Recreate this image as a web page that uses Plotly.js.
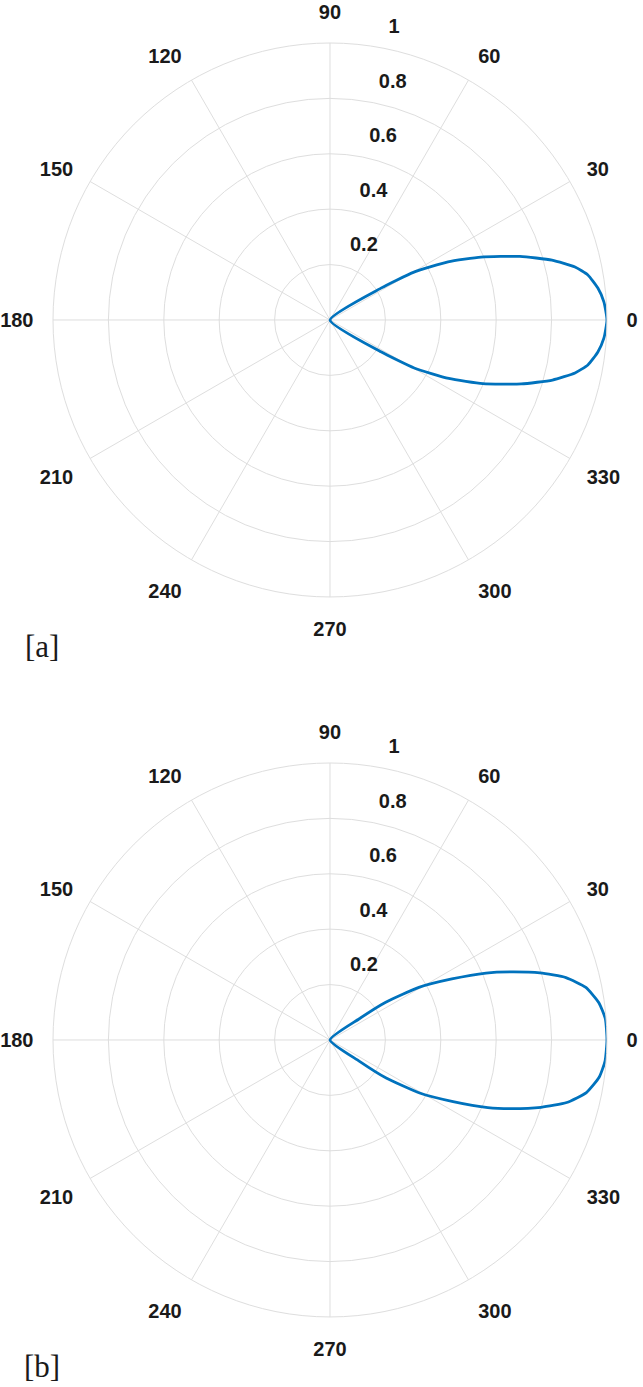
<!DOCTYPE html>
<html>
<head>
<meta charset="utf-8">
<script src="https://cdn.plot.ly/plotly-3.0.1.min.js"></script>
<style>
  html, body { margin: 0; padding: 0; background: #ffffff; }
  #chart { width: 643px; height: 1387px; }
</style>
</head>
<body>
<div id="chart"></div>
<script>
// Angular tick positions / labels (degrees)
const angleTicks = [0, 30, 60, 90, 120, 150, 180, 210, 240, 270, 300, 330];
const angleLabels = ['0', '30', '60', '90', '120', '150', '180', '210', '240', '270', '300', '330'];
// Radial tick positions / labels
const radialTicks = [0.2, 0.4, 0.6, 0.8, 1];
const radialLabels = ['0.2', '0.4', '0.6', '0.8', '1'];

// Panel [a] pattern: angle (deg) and normalised radius
const thetaA = [32.6, 32.0, 29.7, 26.2, 22.6, 18.5, 15.1, 12.2, 9.9, 6.8, 3.8, 0,
                -3.8, -6.8, -9.9, -12.2, -15.1, -18.5, -22.6, -26.2, -29.7, -32.0, -32.6];
const rA     = [0, 0.217, 0.349, 0.475, 0.591, 0.723, 0.830, 0.905, 0.945, 0.974, 0.991, 1.0,
                0.991, 0.974, 0.945, 0.905, 0.832, 0.728, 0.598, 0.478, 0.350, 0.217, 0];

// Panel [b] pattern: angle (deg) and normalised radius
const thetaB = [37.6, 35.9, 34.1, 30.6, 26.6, 23.2, 20.7, 17.7, 14.8, 11.6, 7.9, 4.4, 0,
                -4.4, -7.9, -11.6, -14.8, -17.7, -20.7, -23.2, -26.6, -30.6, -34.1, -35.9, -37.6];
const rB     = [0, 0.129, 0.243, 0.373, 0.492, 0.613, 0.695, 0.796, 0.881, 0.943, 0.980, 0.997, 1.0,
                0.996, 0.981, 0.945, 0.884, 0.800, 0.702, 0.620, 0.497, 0.376, 0.245, 0.130, 0];

const gridCol = '#dedede';
const tickFont = { family: 'Liberation Sans, Arial, sans-serif', size: 20, color: '#1a1a1a', weight: 'bold' };
// radial labels sit above their ring (as in the reference): add blank lines below the text
const radialText = radialLabels.map(s => s + '<br> <br> ');

function polarLayout(ydom) {
  return {
    domain: { x: [0.0824, 0.944], y: ydom },
    bgcolor: '#ffffff',
    radialaxis: {
      range: [0, 1],
      tickmode: 'array',
      tickvals: radialTicks,
      ticktext: radialText,
      angle: 80,
      tickangle: 80,
      side: 'clockwise',
      showline: false,
      ticks: '',
      gridcolor: gridCol,
      gridwidth: 1,
      tickfont: tickFont
    },
    angularaxis: {
      rotation: 0,
      direction: 'counterclockwise',
      thetaunit: 'degrees',
      tickmode: 'array',
      tickvals: angleTicks,
      ticktext: angleLabels,
      showline: true,
      linecolor: gridCol,
      linewidth: 1,
      gridcolor: gridCol,
      gridwidth: 1,
      ticks: 'outside',
      ticklen: 15,
      tickcolor: 'rgba(0,0,0,0)',
      tickfont: tickFont
    }
  };
}

const traces = [
  { type: 'scatterpolar', mode: 'lines', theta: thetaA, r: rA, subplot: 'polar',
    line: { color: '#0072BD', width: 2.8, shape: 'spline', smoothing: 0.5 }, hoverinfo: 'skip' },
  { type: 'scatterpolar', mode: 'lines', theta: thetaB, r: rB, subplot: 'polar2',
    line: { color: '#0072BD', width: 2.8, shape: 'spline', smoothing: 0.5 }, hoverinfo: 'skip' }
];

const layout = {
  width: 643,
  height: 1387,
  margin: { l: 0, r: 0, t: 0, b: 0 },
  paper_bgcolor: '#ffffff',
  showlegend: false,
  polar: polarLayout([0.5696, 0.969]),
  polar2: polarLayout([0.0505, 0.4499]),
  annotations: [
    { text: '[a]', xref: 'paper', yref: 'paper', x: 42 / 643, y: 1 - 646 / 1387,
      xanchor: 'center', yanchor: 'middle', showarrow: false,
      font: { family: 'Liberation Serif, DejaVu Serif, serif', size: 31, color: '#1a1a1a' } },
    { text: '[b]', xref: 'paper', yref: 'paper', x: 42 / 643, y: 1 - 1366 / 1387,
      xanchor: 'center', yanchor: 'middle', showarrow: false,
      font: { family: 'Liberation Serif, DejaVu Serif, serif', size: 31, color: '#1a1a1a' } }
  ]
};

Plotly.newPlot('chart', traces, layout, { staticPlot: true, displayModeBar: false });
</script>
</body>
</html>
